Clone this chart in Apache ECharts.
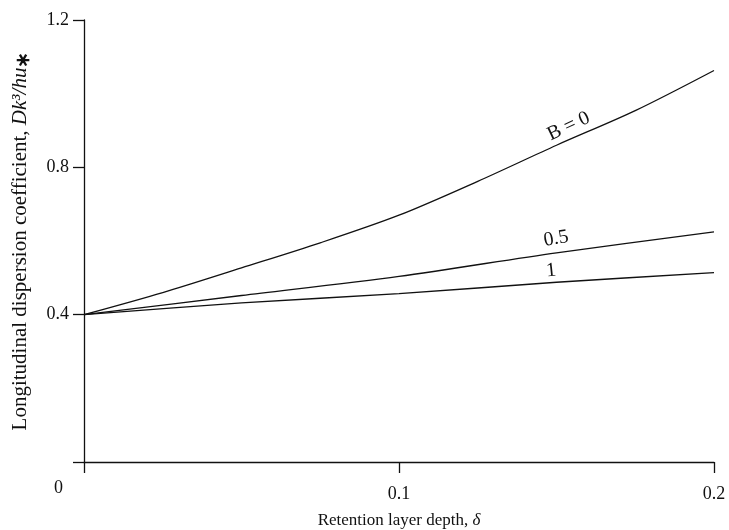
<!DOCTYPE html>
<html>
<head>
<meta charset="utf-8">
<script src="https://cdn.jsdelivr.net/npm/echarts@6/dist/echarts.min.js"></script>
<style>html,body{margin:0;padding:0;background:#fff}#c{width:729px;height:530px}</style>
</head>
<body>
<div id="c"></div>
<script>
// Retention layer depth (delta) and dispersion coefficient values
const deltaB0 = [0, 0.025, 0.05, 0.075, 0.1, 0.125, 0.15, 0.175, 0.2];
const valuesB0 = [0.4, 0.46, 0.527, 0.595, 0.67, 0.762, 0.86, 0.954, 1.063];
const deltaB05 = [0, 0.05, 0.1, 0.15, 0.2];
const valuesB05 = [0.4, 0.452, 0.504, 0.568, 0.625];
const deltaB1 = [0, 0.05, 0.1, 0.15, 0.2];
const valuesB1 = [0.4, 0.432, 0.457, 0.488, 0.514];
const curveLabels = ['B = 0', '0.5', '1'];
const xTicks = [0, 0.1, 0.2];
const yTicks = [0, 0.4, 0.8, 1.2];

const FONT = 'Liberation Serif';
const INK = '#111';

function lineSeries(xs, ys, idx, text, rotate, offset) {
  return {
    type: 'line', smooth: 0.3, symbol: 'none', showSymbol: false,
    lineStyle: { color: INK, width: 1.3 },
    data: xs.map((x, i) => [x, ys[i]]),
    markPoint: {
      symbol: 'circle', symbolSize: 1,
      itemStyle: { color: 'rgba(0,0,0,0)' },
      label: {
        show: true, position: 'inside', formatter: text, rotate: rotate, offset: offset,
        fontFamily: FONT, fontSize: 20, color: INK
      },
      data: [{ coord: [xs[idx], ys[idx]] }]
    }
  };
}

const chart = echarts.init(document.getElementById('c'), null, { renderer: 'canvas' });
chart.setOption({
  animation: false,
  backgroundColor: '#fff',
  grid: { left: 84, right: 15, top: 20, bottom: 68, containLabel: false, outerBoundsMode: 'none' },
  xAxis: {
    type: 'value', min: 0, max: 0.2, interval: 0.1,
    name: 'Retention layer depth, {i|δ}',
    nameLocation: 'middle', nameGap: 50,
    nameTextStyle: {
      fontFamily: FONT, fontSize: 17, color: INK,
      rich: { i: { fontFamily: FONT, fontStyle: 'italic', fontSize: 17, color: INK } }
    },
    axisLine: { show: true, onZero: false, lineStyle: { color: INK, width: 1.3 } },
    axisTick: { show: true, inside: false, length: 11, lineStyle: { color: INK, width: 1.3 } },
    axisLabel: {
      margin: 23, fontFamily: FONT, fontSize: 18, color: INK,
      formatter: v => (v === 0 ? '' : String(v))
    },
    splitLine: { show: false }
  },
  yAxis: {
    type: 'value', min: 0, max: 1.2, interval: 0.4,
    name: 'Longitudinal dispersion coefficient, {i|Dk³/hu}{s|∗}',
    nameLocation: 'middle', nameGap: 52,
    nameTextStyle: {
      fontFamily: FONT, fontSize: 21, color: INK,
      rich: {
        i: { fontFamily: FONT, fontStyle: 'italic', fontSize: 21, color: INK, lineHeight: 24 },
        s: { fontFamily: FONT, fontSize: 19, fontWeight: 'bold', color: INK, lineHeight: 24, padding: [9, 0, 0, 0] }
      }
    },
    axisLine: { show: true, onZero: false, lineStyle: { color: INK, width: 1.3 } },
    axisTick: { show: true, inside: false, length: 11, lineStyle: { color: INK, width: 1.3 } },
    axisLabel: {
      margin: 15, fontFamily: FONT, fontSize: 18, color: INK,
      formatter: v => (v === 0 ? '{z|0}' : v.toFixed(1)),
      rich: { z: { fontFamily: FONT, fontSize: 18, color: INK, padding: [52, 6, 0, 0] } }
    },
    splitLine: { show: false }
  },
  series: [
    lineSeries(deltaB0, valuesB0, 6, curveLabels[0], 25, [19, -12]),
    lineSeries(deltaB05, valuesB05, 3, curveLabels[1], 10, [2, -14]),
    lineSeries(deltaB1, valuesB1, 3, curveLabels[2], 6, [-4, -12])
  ]
});
</script>
</body>
</html>
